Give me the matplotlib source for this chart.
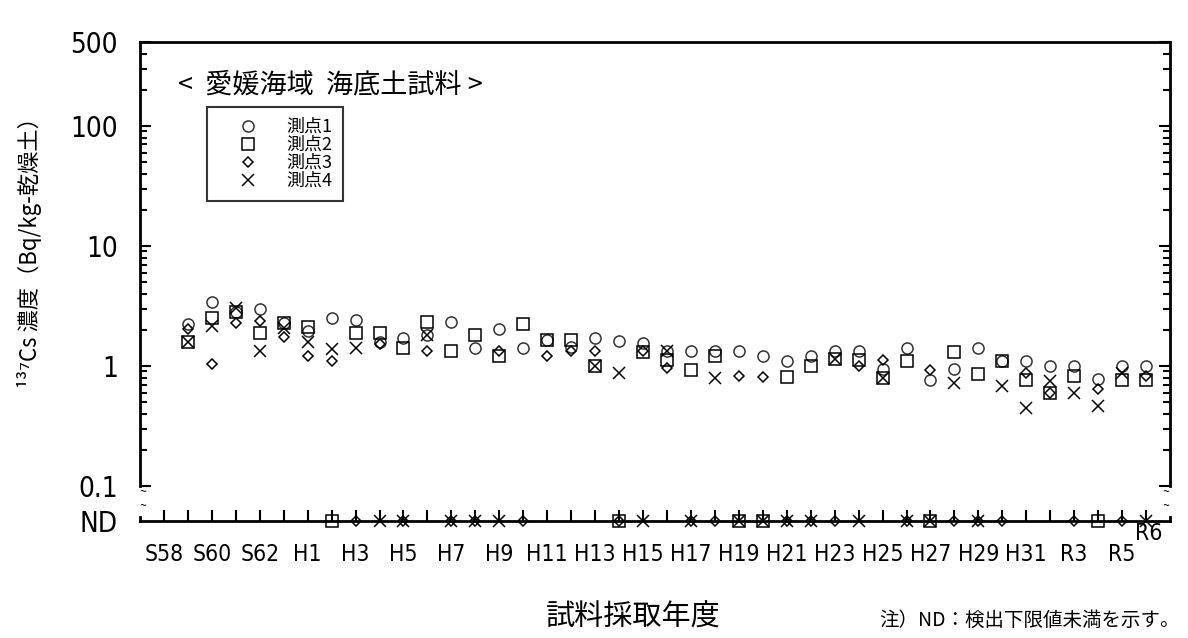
import numpy as np
import matplotlib
matplotlib.use("Agg")
import matplotlib.pyplot as plt
from matplotlib import font_manager
from matplotlib.ticker import FixedLocator, NullFormatter

plt.rcParams['font.family'] = ['Noto Sans CJK JP', 'DejaVu Sans']

# a narrow latin face for the tick labels, if one is installed
narrow = None
for f in font_manager.fontManager.ttflist:
    if ("Narrow" in f.name or "Condensed" in f.name or
            f.stretch in ("condensed", "semi-condensed", "extra-condensed")):
        if f.style == "normal" and f.weight in (400, "normal", "regular", "book"):
            narrow = font_manager.FontProperties(fname=f.fname)
            break

nan = np.nan
ND = 0.0  # below detection limit

# fiscal years 1983 (S58) .. 2024 (R6), one entry per year
years = list(range(1983, 2025))
tick_labels = ["S58", "S60", "S62", "H1", "H3", "H5", "H7", "H9", "H11", "H13", "H15",
               "H17", "H19", "H21", "H23", "H25", "H27", "H29", "H31", "R3", "R5"]
last_label = "R6"

st1 = [nan, 2.24, 3.43, 2.8, 2.99, 2.27, 1.97, 2.53, 2.42, 1.59, 1.7,
       1.81, 2.31, 1.42, 2.03, 1.42, 1.65, 1.45, 1.7, 1.62, 1.55,
       1.34, 1.32, 1.32, 1.32, 1.2, 1.11, 1.21, 1.32, 1.32, 0.95,
       1.4, 0.76, 0.94, 1.4, 1.11, 1.11, 1.0, 1.0, 0.78, 1.0, 1.0]
st2 = [nan, 1.59, 2.5, 2.84, 1.87, 2.3, 2.13, ND, 1.9, 1.9, 1.42,
       2.34, 1.32, 1.81, 1.2, 2.22, 1.65, 1.65, 1.0, ND, 1.3,
       1.12, 0.93, 1.21, ND, ND, 0.81, 1.0, 1.14, 1.12, 0.80,
       1.11, ND, 1.3, 0.85, 1.11, 0.76, 0.59, 0.83, ND, 0.76, 0.76]
st3 = [nan, 2.02, 1.04, 2.3, 2.39, 1.75, 1.2, 1.1, ND, 1.52, ND,
       1.32, ND, ND, 1.33, ND, 1.2, 1.32, 1.32, ND, 1.32,
       0.96, ND, ND, 0.83, 0.81, ND, ND, ND, 1.0, 1.12,
       ND, 0.93, ND, ND, ND, 0.87, 0.59, ND, 0.64, ND, 0.83]
st4 = [nan, 1.59, 2.17, 3.03, 1.34, 2.06, 1.59, 1.39, 1.4, ND, ND,
       1.81, ND, ND, ND, nan, nan, nan, 1.0, 0.88, ND,
       1.34, ND, 0.80, ND, ND, ND, ND, 1.14, ND, 0.80,
       ND, ND, 0.72, ND, 0.685, 0.45, 0.75, 0.59, 0.46, 0.88, ND]

series = [("測点1", st1, "o", 8, "#333333"),
          ("測点2", st2, "s", 8, "black"),
          ("測点3", st3, "D", 5.5, "black"),
          ("測点4", st4, "x", 8, "black")]

if narrow is not None:
    ysize, xsize = 20, 16.5
else:
    ysize, xsize = 20, 15

W, H = 1188, 638
fig = plt.figure(figsize=(W / 100, H / 100), dpi=100)

x0, x1 = 140, 1170
ax = fig.add_axes([x0 / W, 1 - 486 / H, (x1 - x0) / W, (486 - 42) / H])
axnd = fig.add_axes([x0 / W, 1 - 521 / H, (x1 - x0) / W, 4 / H], sharex=ax)

xpos = np.arange(len(years))
handles = []
for name, vals, mk, ms, col in series:
    v = np.array(vals, dtype=float)
    det = v > 0
    nd = v == 0
    h, = ax.plot(xpos[det], v[det], linestyle="none", marker=mk, ms=ms,
                 mfc="none", mec=col, mew=1.1, label=name)
    axnd.plot(xpos[nd], np.zeros(nd.sum()), linestyle="none", marker=mk, ms=ms,
              mfc="none", mec=col, mew=1.1, clip_on=False, zorder=5)
    handles.append(h)

# main (log) panel
ax.set_yscale("log")
ax.set_ylim(0.1, 500)
ax.set_xlim(-1, len(years))
ax.spines["bottom"].set_visible(False)
for s in ["left", "right", "top"]:
    ax.spines[s].set_linewidth(2)
ax.yaxis.set_major_locator(FixedLocator([0.1, 1, 10, 100, 500]))
ax.set_yticklabels(["0.1", "1", "10", "100", "500"])
minors = [m * d for d in [0.1, 1, 10, 100] for m in range(2, 10) if m * d < 500]
ax.yaxis.set_minor_locator(FixedLocator(minors))
ax.yaxis.set_minor_formatter(NullFormatter())
ax.tick_params(axis="y", which="major", direction="in", length=8, width=1.5,
               right=True, labelsize=ysize, pad=16)
ax.tick_params(axis="y", which="minor", direction="in", length=5, width=1.5, right=True)
ax.tick_params(axis="x", which="both", bottom=False, labelbottom=False)

# ND strip
axnd.set_ylim(0, 1)
axnd.spines["top"].set_visible(False)
for s in ["bottom", "left", "right"]:
    axnd.spines[s].set_linewidth(2)
axnd.set_yticks([0])
axnd.set_yticklabels(["ND"])
axnd.tick_params(axis="y", length=0, labelsize=ysize, pad=16)
axnd.set_xticks(xpos)
lab = [""] * len(years)
for i, t in enumerate(tick_labels):
    lab[2 * i] = t
axnd.set_xticklabels(lab)
axnd.tick_params(axis="x", direction="in", length=8, width=1.5, labelsize=xsize, pad=16)
r6 = axnd.annotate(last_label, xy=(xpos[-1], 0), xycoords=("data", "axes fraction"),
                   xytext=(2, -1), textcoords="offset points", ha="center", va="top",
                   fontsize=xsize)
if narrow is not None:
    ylabs = ax.get_yticklabels() + axnd.get_yticklabels()
    for t in ylabs:
        t.set_fontproperties(narrow)
        t.set_fontsize(ysize)
    for t in axnd.get_xticklabels() + [r6]:
        t.set_fontproperties(narrow)
        t.set_fontsize(xsize)

# axis break marks
for bx in [143, 1166]:
    for by in [493, 507]:
        fig.text(bx / W, 1 - by / H, "~", ha="center", va="center", fontsize=9)

fig.text(178 / W, 1 - 85 / H, "<  愛媛海域  海底土試料 >", ha="left", va="center",
         fontsize=19.5)

leg = ax.legend(handles, [s[0] for s in series], loc="upper left",
                bbox_to_anchor=(207 / W, 1 - 107 / H), bbox_transform=fig.transFigure,
                fontsize=13, frameon=True, fancybox=False, borderaxespad=0,
                borderpad=0.6, handlelength=3.3, handletextpad=0.5, labelspacing=0.0)
leg.get_frame().set_edgecolor("black")
leg.get_frame().set_linewidth(1.5)

fig.text(30 / W, 1 - 247 / H, "¹³⁷Cs 濃度（Bq/kg-乾燥土）", rotation=90,
         ha="center", va="center", fontsize=16)
fig.text(633 / W, 1 - 618 / H, "試料採取年度", ha="center", va="center", fontsize=21)
fig.text(1180 / W, 1 - 620 / H, "注）ND：検出下限値未満を示す。", ha="right", va="center",
         fontsize=14)

fig.savefig("out.png", dpi=100)
